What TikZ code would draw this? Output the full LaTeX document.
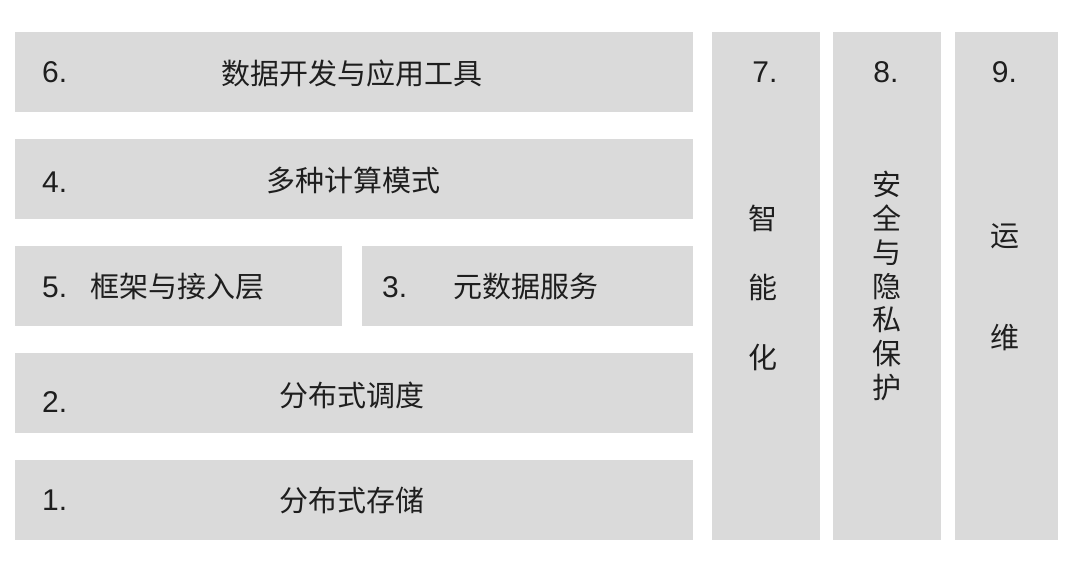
\documentclass[tikz,border=0pt]{standalone}
\usepackage{fontspec}
\setmainfont{Liberation Sans}
\newfontfamily\cjk{Noto Sans CJK SC}
\definecolor{boxgray}{RGB}{218,218,218}
\definecolor{txt}{RGB}{30,30,30}
\begin{document}
\begin{tikzpicture}[x=1pt,y=-1pt,
  layer/.style={fill=boxgray,draw=none,inner sep=0pt,minimum width=#1},
  cn/.style={text=txt,inner sep=0pt,font=\cjk\fontsize{29}{33.7}\selectfont},
  num/.style={text=txt,inner sep=0pt,font=\fontsize{30}{36}\selectfont}]
\useasboundingbox (0,0) rectangle (1080,573);
\fill[white] (0,0) rectangle (1080,573);
% boxes
\node[layer=678pt,minimum height=80pt] (b6) at (354,72) {};
\node[layer=678pt,minimum height=80pt] (b4) at (354,179) {};
\node[layer=327pt,minimum height=80pt] (b5) at (178.5,286) {};
\node[layer=331pt,minimum height=80pt] (b3) at (527.5,286) {};
\node[layer=678pt,minimum height=80pt] (b2) at (354,393) {};
\node[layer=678pt,minimum height=80pt] (b1) at (354,500) {};
\node[layer=108pt,minimum height=508pt] (c7) at (766,286) {};
\node[layer=108pt,minimum height=508pt] (c8) at (887,286) {};
\node[layer=103pt,minimum height=508pt] (c9) at (1006.5,286) {};
% numbers
\node[num,anchor=base west] (n6) at (42,82.5) {6.};
\node[num,anchor=base west] (n4) at (42,192) {4.};
\node[num,anchor=base west] (n5) at (42,297) {5.};
\node[num,anchor=base west] (n3) at (382,297) {3.};
\node[num,anchor=base west] (n2) at (42,412) {2.};
\node[num,anchor=base west] (n1) at (42,510) {1.};
\node[num,anchor=base] (n7) at (765,82) {7.};
\node[num,anchor=base] (n8) at (886,82) {8.};
\node[num,anchor=base] (n9) at (1004.5,82) {9.};
% labels
\node[cn] (t6) at (352,73) {数据开发与应用工具};
\node[cn] (t4) at (353,180) {多种计算模式};
\node[cn] (t5) at (177,287) {框架与接入层};
\node[cn] (t3) at (526,287) {元数据服务};
\node[cn] (t2) at (352,395) {分布式调度};
\node[cn] (t1) at (352,500) {分布式存储};
\node[cn,align=center,font=\cjk\fontsize{29}{69.5}\selectfont] (t7) at (763,287.5) {智\\能\\化};
\node[cn,align=center] (t8) at (887,286) {安\\全\\与\\隐\\私\\保\\护};
\node[cn,align=center,font=\cjk\fontsize{29}{102}\selectfont] (t9) at (1005,287) {运\\维};
\end{tikzpicture}
\end{document}
